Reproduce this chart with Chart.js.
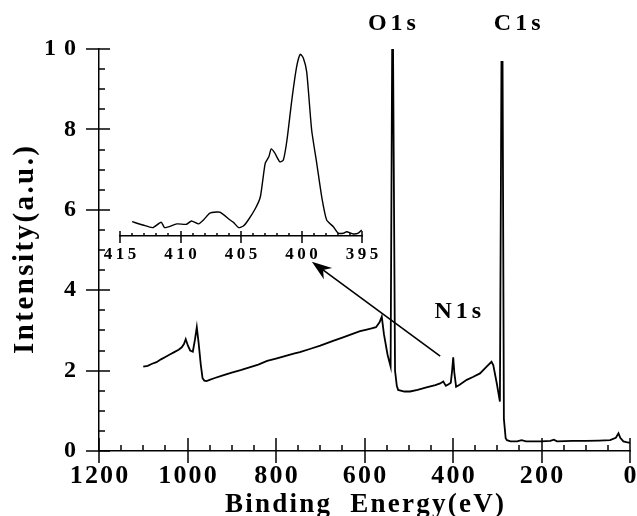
<!DOCTYPE html>
<html>
<head>
<meta charset="utf-8">
<script src="https://cdn.jsdelivr.net/npm/chart.js@4.4.1/dist/chart.umd.min.js"></script>
<style>
  html, body { margin: 0; padding: 0; background: #fff; }
  #wrap { position: relative; width: 637px; height: 516px; overflow: hidden; }
  #main { position: absolute; left: 0; top: 0; }
  #inset { position: absolute; left: 100px; top: 50px; }
</style>
</head>
<body>
<div id="wrap">
  <canvas id="main" width="637" height="516"></canvas>
  <canvas id="inset" width="282" height="210"></canvas>
</div>
<script>
// survey spectrum (binding energy in eV, intensity in a.u.)
var energy = [1100, 1090, 1080, 1070, 1060, 1050, 1040, 1030, 1020, 1013, 1008, 1004, 999, 994, 988, 983, 979, 975, 970, 966,
  962, 957, 950, 940, 920, 900, 880, 860, 840, 820, 800, 780, 760, 746, 720, 700, 671, 650, 630, 610,
  595, 584, 574, 566, 561, 556, 548, 541, 537.5, 535.5, 531, 527, 524, 510, 497, 480, 460, 440,
  429, 422, 416, 410, 405, 402, 399.5, 397, 393, 385, 369, 355, 339, 324, 313, 309, 301, 294, 290.5,
  288, 285, 281, 278, 270, 255, 245, 235, 200, 180, 172, 165, 130, 100, 70, 45, 32, 26, 22, 15, 8, 0];
var intensity = [2.10, 2.12, 2.17, 2.21, 2.28, 2.34, 2.40, 2.46, 2.52, 2.58, 2.66, 2.78, 2.62, 2.50, 2.47, 2.78, 3.08, 2.70, 2.15, 1.81,
  1.75, 1.74, 1.77, 1.81, 1.88, 1.95, 2.01, 2.08, 2.15, 2.24, 2.30, 2.36, 2.42, 2.46, 2.55, 2.62, 2.74, 2.82, 2.90, 2.98,
  3.02, 3.05, 3.08, 3.20, 3.34, 2.90, 2.40, 2.10, 10.03, 10.03, 2.0, 1.62, 1.52, 1.48, 1.48, 1.52, 1.58, 1.64,
  1.68, 1.73, 1.62, 1.66, 1.70, 2.0, 2.33, 1.95, 1.60, 1.65, 1.77, 1.84, 1.93, 2.10, 2.22, 2.14, 1.68, 1.23, 9.68,
  9.68, 0.8, 0.32, 0.27, 0.24, 0.24, 0.27, 0.24, 0.24, 0.25, 0.28, 0.24, 0.25, 0.25, 0.26, 0.27, 0.33, 0.44, 0.33, 0.24, 0.22, 0.20];

// N1s region, inset (arbitrary counts)
var n1sEnergy = [414.0, 413.1, 412.3, 411.6, 411.3, 410.3, 409.5, 409.1, 408.5, 408.1, 407.6, 407.0, 406.7, 405.9, 405.6, 405.2,
  404.8, 404.4, 403.8, 403.4, 403.0, 402.7, 402.5, 402.2, 401.8, 401.5, 401.2, 400.8, 400.4, 400.1, 399.85, 399.57,
  399.16, 398.74, 398.33, 397.92, 397.37, 396.96, 396.55, 396.27, 395.72, 395.31, 395.02];
var n1sCounts = [7.7, 5.9, 4.5, 7.4, 4.5, 6.5, 6.3, 8.1, 6.5, 8.6, 12.2, 12.9, 12.7, 8.6, 7.2, 4.5,
  5.4, 8.6, 14.9, 21.1, 39.1, 42.6, 46.8, 44.5, 39.9, 40.9, 51.6, 73.1, 91.0, 97.7, 95.7, 88.2,
  57.0, 39.1, 21.1, 8.6, 5.0, 1.5, 1.5, 2.3, 1.1, 1.5, 3.2];

// labelled ticks
var xMajor = [0, 200, 400, 600, 800, 1000, 1200];
var yMajor = [0, 2, 4, 6, 8, 10];
var insetMajor = [395, 400, 405, 410, 415];

var FONT = 'Liberation Serif';
var HAIR = '\u200a', THIN = '\u2009';

function spaced(s, sep) { return String(s).split('').join(sep); }

// major ticks cross the axis, minor ticks point into the plot
function tickMarks(axes) {
  return {
    id: 'tickMarks',
    afterDraw: function(chart) {
      var ctx = chart.ctx;
      ctx.save();
      ctx.strokeStyle = '#000';
      ctx.lineWidth = 1.5;
      axes.forEach(function(a) {
        var scale = chart.scales[a.id];
        scale.ticks.forEach(function(t) {
          var p = Math.round(scale.getPixelForValue(t.value));
          var len = a.major.indexOf(t.value) >= 0 ? a.majorLen : a.minorLen;
          ctx.beginPath();
          if (scale.isHorizontal()) {
            ctx.moveTo(p, scale.top - len[1]);
            ctx.lineTo(p, scale.top + len[0]);
          } else {
            ctx.moveTo(scale.right - len[0], p);
            ctx.lineTo(scale.right + len[1], p);
          }
          ctx.stroke();
        });
      });
      ctx.restore();
    }
  };
}

// peak labels and the arrow pointing to the inset, in data coordinates
var peakLabels = [
  { text: 'O1s', x: 538, y: 10.62 },
  { text: 'C1s', x: 255, y: 10.62 },
  { text: 'N1s', x: 389, y: 3.46 }
];
var arrowFrom = [429, 2.36], arrowTo = [719, 4.71];

var notes = {
  id: 'notes',
  afterDraw: function(chart) {
    var ctx = chart.ctx, xs = chart.scales.x, ys = chart.scales.y;
    ctx.save();
    ctx.fillStyle = '#000';
    ctx.strokeStyle = '#000';
    ctx.font = 'bold 24px "' + FONT + '"';
    ctx.letterSpacing = '4px';
    ctx.textAlign = 'center';
    ctx.textBaseline = 'middle';
    peakLabels.forEach(function(l) {
      ctx.fillText(l.text, xs.getPixelForValue(l.x) + 2, ys.getPixelForValue(l.y));
    });
    ctx.letterSpacing = '0px';
    var x1 = xs.getPixelForValue(arrowFrom[0]), y1 = ys.getPixelForValue(arrowFrom[1]);
    var x2 = xs.getPixelForValue(arrowTo[0]), y2 = ys.getPixelForValue(arrowTo[1]);
    var ang = Math.atan2(y2 - y1, x2 - x1);
    ctx.lineWidth = 1.6;
    ctx.beginPath();
    ctx.moveTo(x1, y1);
    ctx.lineTo(x2 - 10 * Math.cos(ang), y2 - 10 * Math.sin(ang));
    ctx.stroke();
    ctx.beginPath();
    ctx.moveTo(x2, y2);
    ctx.lineTo(x2 - 20 * Math.cos(ang) + 7 * Math.sin(ang), y2 - 20 * Math.sin(ang) - 7 * Math.cos(ang));
    ctx.lineTo(x2 - 14 * Math.cos(ang), y2 - 14 * Math.sin(ang));
    ctx.lineTo(x2 - 20 * Math.cos(ang) - 7 * Math.sin(ang), y2 - 20 * Math.sin(ang) + 7 * Math.cos(ang));
    ctx.closePath();
    ctx.fill();
    ctx.restore();
  }
};

function pairs(xs, ys) {
  return xs.map(function(x, i) { return { x: x, y: ys[i] }; });
}

// reversed axes get the label overflow on the wrong side, so drop it
function noLabelPadding(s) { s.paddingLeft = 0; s.paddingRight = 0; }

new Chart(document.getElementById('main'), {
  type: 'line',
  data: {
    datasets: [{
      data: pairs(energy, intensity),
      borderColor: '#000',
      borderWidth: 1.8,
      pointRadius: 0,
      tension: 0,
      fill: false
    }]
  },
  options: {
    responsive: false,
    animation: false,
    events: [],
    layout: { padding: { top: 49, right: 7, left: 0, bottom: 0 } },
    plugins: { legend: { display: false }, tooltip: { enabled: false } },
    scales: {
      x: {
        type: 'linear',
        reverse: true,
        min: 0,
        max: 1200,
        grid: { display: false, drawTicks: false },
        border: { display: true, color: '#000', width: 1.5 },
        ticks: {
          stepSize: 50,
          autoSkip: false,
          maxRotation: 0,
          padding: 10,
          color: '#000',
          font: { family: FONT, size: 26, weight: 'bold' },
          callback: function(v) { return xMajor.indexOf(v) >= 0 ? spaced(v, HAIR) : ''; }
        },
        title: {
          display: true,
          text: spaced('Binding', HAIR) + '   ' + spaced('Energy(eV)', HAIR),
          color: '#000',
          font: { family: FONT, size: 27, weight: 'bold', lineHeight: 0.8 },
          padding: 0
        },
        afterFit: function(s) { s.height = 65; noLabelPadding(s); }
      },
      y: {
        min: 0,
        max: 10,
        grid: { display: false, drawTicks: false },
        border: { display: true, color: '#000', width: 1.5 },
        ticks: {
          stepSize: 0.5,
          autoSkip: false,
          padding: 23,
          color: '#000',
          font: { family: FONT, size: 24, weight: 'bold' },
          callback: function(v) {
            if (yMajor.indexOf(v) < 0) return '';
            return v === 10 ? '1 ' + HAIR + '0' : String(v);
          }
        },
        title: {
          display: true,
          text: spaced('Intensity(a.u.)', HAIR),
          color: '#000',
          font: { family: FONT, size: 29, weight: 'bold', lineHeight: 1.2 },
          padding: { top: 8, bottom: 0 }
        },
        afterFit: function(s) { s.width = 99; }
      }
    }
  },
  plugins: [
    tickMarks([
      { id: 'x', major: xMajor, majorLen: [12, 13], minorLen: [0, 6] },
      { id: 'y', major: yMajor, majorLen: [13, 11], minorLen: [0, 6] }
    ]),
    notes
  ]
});

new Chart(document.getElementById('inset'), {
  type: 'line',
  data: {
    datasets: [{
      data: pairs(n1sEnergy, n1sCounts),
      borderColor: '#000',
      borderWidth: 1.4,
      pointRadius: 0,
      tension: 0.2,
      fill: false
    }]
  },
  options: {
    responsive: false,
    animation: false,
    events: [],
    layout: { padding: { top: 0, right: 20, left: 20, bottom: 0 } },
    plugins: { legend: { display: false }, tooltip: { enabled: false } },
    scales: {
      x: {
        type: 'linear',
        reverse: true,
        min: 395,
        max: 415,
        grid: { display: false, drawTicks: false },
        border: { display: true, color: '#000', width: 1.5 },
        ticks: {
          stepSize: 1,
          autoSkip: false,
          maxRotation: 0,
          padding: 8,
          color: '#000',
          font: { family: FONT, size: 17, weight: 'bold' },
          callback: function(v) { return insetMajor.indexOf(v) >= 0 ? spaced(v, THIN) : ''; }
        },
        afterFit: function(s) { s.height = 24; noLabelPadding(s); }
      },
      y: { display: false, min: 0, max: 100 }
    }
  },
  plugins: [
    tickMarks([
      { id: 'x', major: insetMajor, majorLen: [7, 5], minorLen: [0, 3] }
    ])
  ]
});
</script>
</body>
</html>
